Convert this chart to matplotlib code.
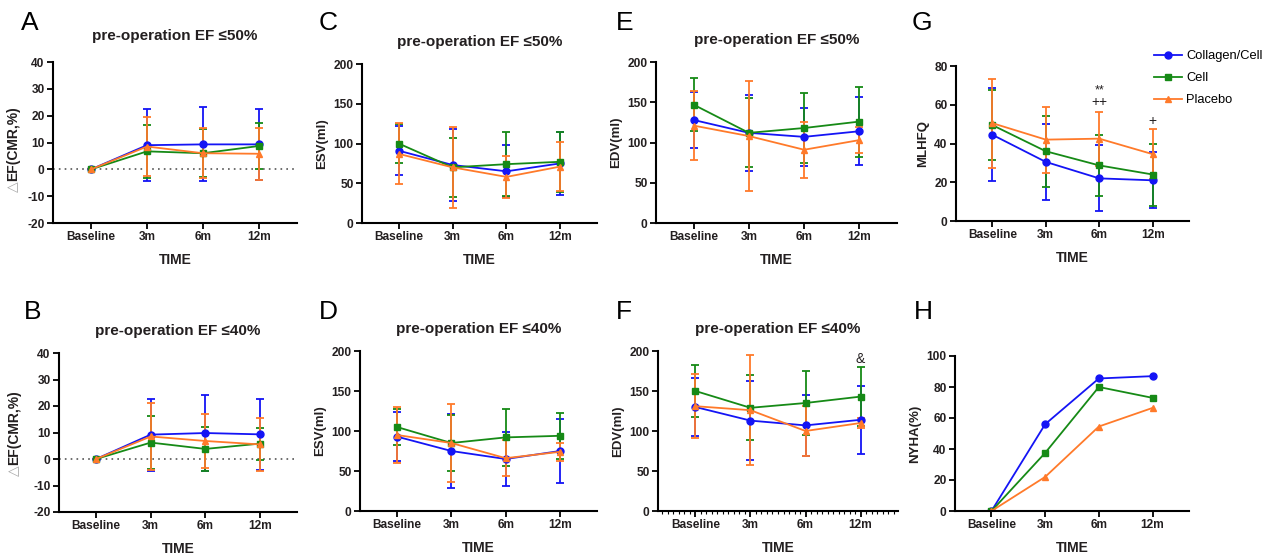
import numpy as np
import matplotlib
matplotlib.use("Agg")
import matplotlib.pyplot as plt
from matplotlib.ticker import MultipleLocator
from matplotlib.lines import Line2D

plt.rcParams['font.family'] = ['Liberation Sans', 'DejaVu Sans']
plt.rcParams['axes.unicode_minus'] = False

# Shared categories and group names
time_labels = ['Baseline', '3m', '6m', '12m']
groups = ['Collagen/Cell', 'Cell', 'Placebo']

# A: delta EF, pre-op EF <= 50%  (mean, sd)
a_mean = {'Collagen/Cell': [0, 9.0, 9.3, 9.3], 'Cell': [0, 6.7, 6.0, 8.7], 'Placebo': [0, 8.5, 6.0, 5.8]}
a_sd = {'Collagen/Cell': [0, 13.3, 13.8, 13.3], 'Cell': [0, 9.8, 8.9, 8.4], 'Placebo': [0, 11.1, 9.3, 9.6]}

# B: delta EF, pre-op EF <= 40%
b_mean = {'Collagen/Cell': [0, 9.2, 9.8, 9.3], 'Cell': [0, 6.2, 3.8, 5.8], 'Placebo': [0, 8.5, 6.8, 5.5]}
b_sd = {'Collagen/Cell': [0, 13.6, 14.2, 13.4], 'Cell': [0, 9.9, 8.4, 6.0], 'Placebo': [0, 12.8, 10.2, 10.0]}

# C: ESV, EF <= 50%
c_mean = {'Collagen/Cell': [91, 73, 65, 75], 'Cell': [100, 70, 74, 77], 'Placebo': [87, 70, 58, 71]}
c_sd = {'Collagen/Cell': [31, 45, 32.5, 40], 'Cell': [25, 37, 40, 38], 'Placebo': [38.5, 51, 26, 31]}

# D: ESV, EF <= 40%
d_mean = {'Collagen/Cell': [93, 75, 65, 75], 'Cell': [105, 85, 92, 94], 'Placebo': [95, 85, 66, 74]}
d_sd = {'Collagen/Cell': [31, 46, 33.5, 40], 'Cell': [23, 35, 35.5, 28.5], 'Placebo': [34.5, 49, 22.5, 11]}

# E: EDV, EF <= 50%
e_mean = {'Collagen/Cell': [128, 112, 107, 114], 'Cell': [147, 112, 118, 126], 'Placebo': [121, 108, 91, 103]}
e_sd = {'Collagen/Cell': [35, 47.5, 36, 42.5], 'Cell': [33, 43, 44, 43.5], 'Placebo': [42.5, 68.5, 34.5, 16]}

# F: EDV, EF <= 40%
f_mean = {'Collagen/Cell': [130, 113, 107, 114], 'Cell': [150, 129, 135, 143], 'Placebo': [131, 126, 100, 110]}
f_sd = {'Collagen/Cell': [36.5, 49, 38, 42.5], 'Cell': [32, 40.5, 40.5, 36.5], 'Placebo': [40, 68.5, 31, 6.5]}

# G: MLHFQ
g_mean = {'Collagen/Cell': [44.5, 30.5, 22, 21], 'Cell': [49.5, 36, 28.7, 24], 'Placebo': [50.5, 42, 42.5, 34.5]}
g_sd = {'Collagen/Cell': [24, 19.5, 17, 14.5], 'Cell': [18, 18.3, 15.8, 16], 'Placebo': [23, 17, 14, 13]}

# H: NYHA improvement (%)
h_vals = {'Collagen/Cell': [0, 56, 85.5, 87], 'Cell': [0, 37.5, 80, 73], 'Placebo': [0, 22, 54.5, 66.5]}

colors = {'Collagen/Cell': '#1414f5', 'Cell': '#168a16', 'Placebo': '#ff7a2a'}
markers = {'Collagen/Cell': 'o', 'Cell': 's', 'Placebo': '^'}
TXT = '#231f20'

W, H = 1267, 559
fig = plt.figure(figsize=(W / 100, H / 100), dpi=100)


def make_ax(left, right, top, bottom):
    return fig.add_axes([left / W, 1 - bottom / H, (right - left) / W, (bottom - top) / H])


def letter(x, y, s):
    fig.text(x / W, 1 - y / H, s, fontsize=19, color='black', ha='left', va='top')


def style(ax, ylim, ystep, title, ylabel, tpad=13):
    x = np.arange(len(time_labels))
    ax.set_xlim(-0.68, 3.68)
    ax.set_ylim(*ylim)
    ax.yaxis.set_major_locator(MultipleLocator(ystep))
    ax.set_xticks(x)
    ax.set_xticklabels(time_labels)
    for s in ['top', 'right']:
        ax.spines[s].set_visible(False)
    for s in ['left', 'bottom']:
        ax.spines[s].set_linewidth(1.5)
        ax.spines[s].set_color('black')
    ax.tick_params(axis='both', length=4, width=1.3, labelsize=8.6, labelcolor=TXT, pad=2)
    for lab in ax.get_xticklabels() + ax.get_yticklabels():
        lab.set_fontweight('bold')
    ax.set_xlabel('TIME', fontsize=10, fontweight='bold', color=TXT, labelpad=7)
    if title:
        ax.set_title(title, fontsize=11, fontweight='bold', color=TXT, pad=tpad)
    if ylabel:
        ax.set_ylabel(ylabel, fontsize=9.5, fontweight='bold', color=TXT, labelpad=4)


def draw_err(ax, means, sds):
    x = np.arange(len(time_labels))
    for g in groups:
        ax.errorbar(x, means[g], yerr=sds[g], color=colors[g], marker=markers[g],
                    markersize=5, linewidth=1.3, elinewidth=1.3, capsize=3, capthick=1.3)


def delta_label(ax, xpos, ypos):
    ax.set_ylabel('EF(CMR,%)', fontsize=10, fontweight='bold', color=TXT)
    ax.yaxis.set_label_coords(xpos, ypos)
    ax.annotate('△', xy=(0.5, 0), xycoords=ax.yaxis.label, ha='center', va='top',
                rotation=90, fontsize=10, color='#a8a8a8', family=['DejaVu Sans'])


# A
axA = make_ax(53, 297, 62, 223)
draw_err(axA, a_mean, a_sd)
axA.axhline(0, color='#555555', linestyle=(0, (1, 2.5)), linewidth=1.2, zorder=0)
style(axA, (-20, 40), 10, 'pre-operation EF ≤50%', None, tpad=16)
delta_label(axA, -0.135, 0.49)
letter(21, 11, 'A')

# B
axB = make_ax(59, 297, 353, 512)
draw_err(axB, b_mean, b_sd)
axB.axhline(0, color='#555555', linestyle=(0, (1, 2.5)), linewidth=1.2, zorder=0)
style(axB, (-20, 40), 10, 'pre-operation EF ≤40%', None)
delta_label(axB, -0.16, 0.53)
letter(24, 300, 'B')

# C
axC = make_ax(362, 597, 64, 223)
draw_err(axC, c_mean, c_sd)
style(axC, (0, 200), 50, 'pre-operation EF ≤50%', 'ESV(ml)')
letter(319, 11, 'C')

# D
axD = make_ax(360, 597, 351, 511)
draw_err(axD, d_mean, d_sd)
style(axD, (0, 200), 50, 'pre-operation EF ≤40%', 'ESV(ml)')
letter(319, 300, 'D')

# E
axE = make_ax(656, 897, 62, 223)
draw_err(axE, e_mean, e_sd)
style(axE, (0, 200), 50, 'pre-operation EF ≤50%', 'EDV(ml)')
letter(616, 11, 'E')

# F
axF = make_ax(658, 898, 351, 511)
draw_err(axF, f_mean, f_sd)
style(axF, (0, 200), 50, 'pre-operation EF ≤40%', 'EDV(ml)')
axF.xaxis.set_minor_locator(MultipleLocator(0.1))
axF.tick_params(axis='x', which='minor', length=2, width=0.8)
axF.text(3, 190, '&', ha='center', va='center', fontsize=10, color=TXT)
letter(616, 300, 'F')

# G
axG = make_ax(956, 1189, 66, 221)
draw_err(axG, g_mean, g_sd)
style(axG, (0, 80), 20, None, 'MLHFQ')
axG.text(2, 67.5, '**', ha='center', va='center', fontsize=9, color=TXT)
axG.text(2, 61.5, '++', ha='center', va='center', fontsize=10, color=TXT)
axG.text(3, 51.5, '+', ha='center', va='center', fontsize=10, color=TXT)
letter(912, 11, 'G')

# H
axH = make_ax(955, 1189, 356, 511)
xh = np.arange(len(time_labels))
for g in groups:
    axH.plot(xh, h_vals[g], color=colors[g], marker=markers[g], markersize=5, linewidth=1.3)
style(axH, (0, 100), 20, None, 'NYHA(%)')
letter(914, 300, 'H')

# legend
handles = [Line2D([], [], color=colors[g], marker=markers[g], markersize=5, linewidth=1.3)
           for g in groups]
fig.legend(handles, groups, loc='upper left', bbox_to_anchor=(1154 / W, 1 - 50 / H),
           frameon=False, fontsize=9.3, handlelength=2.2, labelspacing=0.78,
           handletextpad=0.3, borderaxespad=0, borderpad=0)

fig.savefig('out.png', dpi=100, facecolor='white')
